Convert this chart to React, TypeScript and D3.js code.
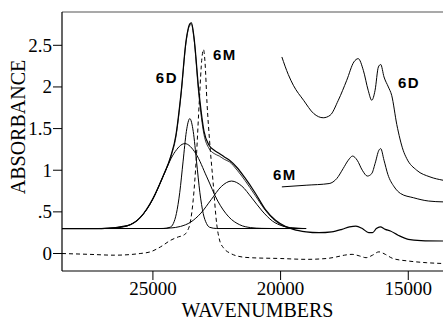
import React from 'react';
import * as d3 from 'd3';

type Pt = [number, number];

// wavenumber (cm-1), absorbance
const exp6D: Pt[] = [
  [28560, 0.3], [27000, 0.3], [26000, 0.335], [25500, 0.43], [25000, 0.66], [24600, 0.93],
  [24300, 1.17], [24100, 1.42], [23900, 1.92], [23700, 2.56], [23550, 2.76], [23490, 2.77],
  [23400, 2.62], [23200, 1.95], [23000, 1.47], [22800, 1.3], [22600, 1.24], [22400, 1.2],
  [22200, 1.16], [22000, 1.12], [21700, 1.03], [21400, 0.91], [21000, 0.73], [20600, 0.53],
  [20200, 0.4], [19800, 0.325], [19500, 0.29], [19000, 0.26], [18500, 0.25], [18000, 0.26],
  [17600, 0.29], [17300, 0.32], [17050, 0.33], [16800, 0.3], [16550, 0.25], [16400, 0.25],
  [16250, 0.3], [16100, 0.32], [15900, 0.29], [15700, 0.27], [15400, 0.22], [15000, 0.17],
  [14500, 0.155], [13640, 0.15],
];

const fitSum: Pt[] = [
  [28560, 0.3], [27000, 0.3], [26000, 0.333], [25500, 0.43], [25000, 0.655], [24600, 0.928],
  [24300, 1.16], [24100, 1.4], [23900, 1.9], [23700, 2.54], [23555, 2.74], [23490, 2.75],
  [23400, 2.6], [23200, 1.9], [23000, 1.43], [22800, 1.26], [22600, 1.2], [22400, 1.17],
  [22200, 1.13], [22000, 1.1], [21700, 1.0], [21400, 0.88], [21000, 0.7], [20600, 0.52],
  [20200, 0.39], [19800, 0.32], [19400, 0.305], [19000, 0.3],
];

const bandNarrow: Pt[] = [
  [28560, 0.3], [24600, 0.3], [24330, 0.315], [24200, 0.36], [24080, 0.48], [23950, 0.73],
  [23820, 1.1], [23690, 1.465], [23555, 1.62], [23420, 1.465], [23290, 1.1], [23160, 0.73],
  [23030, 0.48], [22900, 0.36], [22780, 0.315], [22500, 0.3], [19000, 0.3],
];

const bandBroad: Pt[] = [
  [28560, 0.3], [27190, 0.3], [26760, 0.302], [26330, 0.311], [25900, 0.345], [25470, 0.44],
  [25040, 0.63], [24610, 0.92], [24180, 1.2], [23750, 1.32], [23320, 1.2], [22890, 0.92],
  [22460, 0.63], [22030, 0.44], [21600, 0.345], [21170, 0.311], [20740, 0.302], [20310, 0.3],
  [19000, 0.3],
];

const bandRight: Pt[] = [
  [28560, 0.3], [24720, 0.3], [24320, 0.306], [23920, 0.325], [23520, 0.377], [23120, 0.485],
  [22720, 0.646], [22320, 0.805], [21920, 0.87], [21520, 0.81], [21120, 0.665], [20720, 0.51],
  [20320, 0.39], [19920, 0.33], [19520, 0.307], [19120, 0.3],
];

const exp6M: Pt[] = [
  [28560, 0.0], [27500, -0.01], [26500, -0.02], [25500, 0.0], [25100, 0.02], [24700, 0.08],
  [24300, 0.16], [24000, 0.2], [23800, 0.22], [23650, 0.27], [23540, 0.37], [23420, 0.65],
  [23300, 1.15], [23180, 1.85], [23080, 2.35], [23020, 2.45], [22960, 2.3], [22880, 1.8],
  [22780, 1.35], [22650, 0.88], [22500, 0.35], [22380, 0.15], [22240, 0.07], [21950, 0.0],
  [21700, -0.03], [21200, -0.05], [20000, -0.06], [19000, -0.07], [18200, -0.06], [17800, -0.04],
  [17500, -0.02], [17200, -0.01], [16900, -0.03], [16650, -0.05], [16400, -0.02], [16150, 0.02],
  [15900, -0.01], [15600, -0.06], [15000, -0.09], [14300, -0.11], [13640, -0.12],
];

// expanded traces drawn in the upper right
const inset6D: Pt[] = [
  [19950, 2.36], [19700, 2.15], [19500, 2.02], [19100, 1.84], [18700, 1.68], [18330, 1.63],
  [18060, 1.66], [17740, 1.84], [17410, 2.08], [17130, 2.3], [16960, 2.34], [16760, 2.2],
  [16570, 1.96], [16430, 1.84], [16300, 1.96], [16170, 2.24], [16080, 2.27], [15950, 2.12],
  [15780, 2.0], [15650, 1.9], [15450, 1.55], [15200, 1.24], [15060, 1.14], [14670, 1.0],
  [14150, 0.92], [13640, 0.88],
];

const inset6M: Pt[] = [
  [19950, 0.8], [19000, 0.82], [18100, 0.84], [17800, 0.9], [17550, 1.02], [17350, 1.12],
  [17180, 1.17], [17000, 1.12], [16800, 1.0], [16600, 0.93], [16430, 0.96], [16300, 1.08],
  [16150, 1.24], [16080, 1.26], [15950, 1.12], [15800, 0.95], [15550, 0.8], [15300, 0.72],
  [14800, 0.67], [14200, 0.63], [13640, 0.62],
];

const xTicks = [25000, 20000, 15000];
const yTicks = [0, 0.5, 1, 1.5, 2, 2.5];
const yTickLabels = ['0', '.5', '1', '1.5', '2', '2.5'];

export default function App() {
  const W = 443;
  const H = 321;
  const left = 62, right = 443, top = 12, bottom = 271;

  const x = d3.scaleLinear().domain([28560, 13640]).range([left, right]);
  const y = d3.scaleLinear().domain([-0.21, 2.9]).range([bottom, top]);

  const line = d3.line<Pt>()
    .x((d) => x(d[0]))
    .y((d) => y(d[1]))
    .curve(d3.curveMonotoneX);

  const serif = '"Liberation Serif", "Times New Roman", serif';
  const sans = '"Liberation Sans", Arial, sans-serif';

  const solid = [
    { d: bandBroad, w: 1 },
    { d: bandRight, w: 1 },
    { d: bandNarrow, w: 1 },
    { d: fitSum, w: 0.8 },
    { d: exp6D, w: 1.2 },
    { d: inset6D, w: 1 },
    { d: inset6M, w: 1 },
  ];

  return (
    <svg width={W} height={H} style={{ position: 'absolute', left: 0, top: 0, background: '#fff' }}>
      <defs>
        <clipPath id="plot">
          <rect x={left} y={top} width={right - left} height={bottom - top} />
        </clipPath>
      </defs>

      <g clipPath="url(#plot)" fill="none" stroke="#000">
        {solid.map((s, i) => (
          <path key={i} d={line(s.d) ?? ''} strokeWidth={s.w} />
        ))}
        <path d={line(exp6M) ?? ''} strokeWidth={1} strokeDasharray="4,3" />
      </g>

      {/* frame */}
      <line x1={left} x2={right} y1={top} y2={top} stroke="#555" strokeWidth={1.2} />
      <line x1={left} x2={left} y1={top} y2={bottom} stroke="#000" strokeWidth={1.2} />
      <line x1={left} x2={right} y1={bottom} y2={bottom} stroke="#000" strokeWidth={1.2} />

      {yTicks.map((t, i) => (
        <g key={t}>
          <line x1={left - 9} x2={left} y1={y(t)} y2={y(t)} stroke="#000" strokeWidth={1} />
          <text x={52} y={y(t) + 6.5} textAnchor="end" fontFamily={serif} fontSize={19}>
            {yTickLabels[i]}
          </text>
        </g>
      ))}

      {xTicks.map((t) => (
        <g key={t}>
          <line x1={x(t)} x2={x(t)} y1={bottom} y2={bottom + 9} stroke="#000" strokeWidth={1} />
          <text x={x(t)} y={295} textAnchor="middle" fontFamily={serif} fontSize={19}>
            {t}
          </text>
        </g>
      ))}

      <text x={257.5} y={317} textAnchor="middle" fontFamily={serif} fontSize={20}>
        WAVENUMBERS
      </text>
      <text transform="translate(25,127) rotate(-90)" textAnchor="middle" fontFamily={serif} fontSize={20}>
        ABSORBANCE
      </text>

      <g fontFamily={sans} fontWeight="bold" fontSize={15} letterSpacing={1.5}>
        <text x={178} y={83} textAnchor="end">6D</text>
        <text x={213} y={60}>6M</text>
        <text x={398} y={88}>6D</text>
        <text x={273} y={180}>6M</text>
      </g>
    </svg>
  );
}
